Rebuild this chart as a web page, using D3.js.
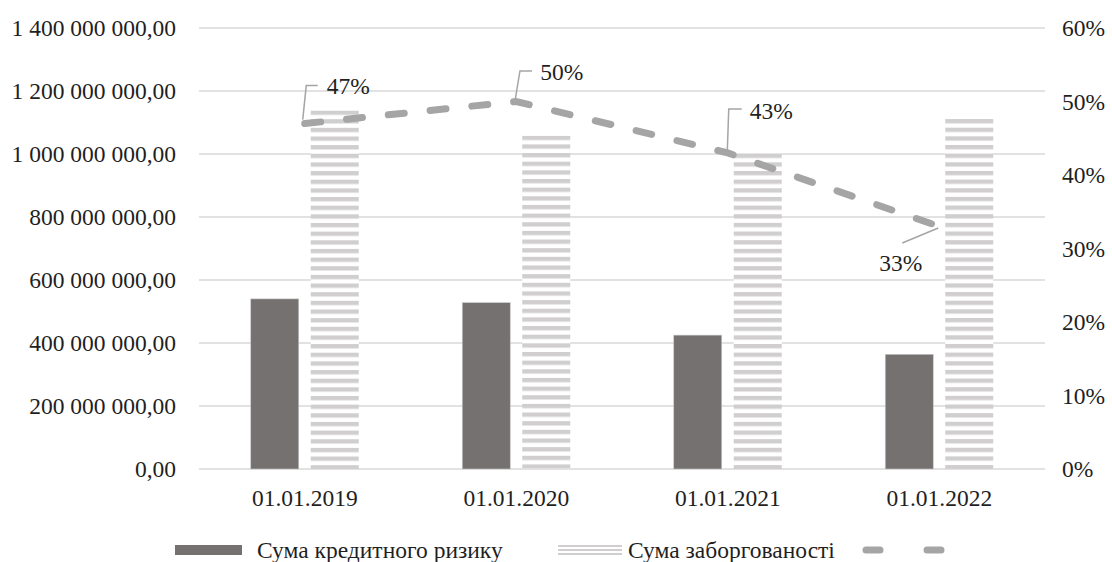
<!DOCTYPE html>
<html>
<head>
<meta charset="utf-8">
<script src="https://cdn.jsdelivr.net/npm/d3@7"></script>
<style>
  html, body { margin: 0; padding: 0; background: #fff; }
  svg { display: block; }
  svg text { font-family: "Liberation Serif", "Times New Roman", "DejaVu Serif", serif; }
</style>
</head>
<body>
<svg id="chart" width="1112" height="562"></svg>
<script>
// Report dates
const categories = ["01.01.2019", "01.01.2020", "01.01.2021", "01.01.2022"];
// Credit risk amount, UAH
const creditRisk = [540000000, 528000000, 425000000, 364000000];
// Outstanding debt amount, UAH
const debtTotal = [1138000000, 1058000000, 1001000000, 1111000000];
// Share of credit risk in debt
const riskShare = [0.47, 0.50, 0.43, 0.33];
const shareLabels = ["47%", "50%", "43%", "33%"];
// Axis ticks
const leftTicks = [0, 200000000, 400000000, 600000000, 800000000, 1000000000, 1200000000, 1400000000];
const rightTicks = [0, 0.1, 0.2, 0.3, 0.4, 0.5, 0.6];
const seriesNames = ["Сума кредитного ризику", "Сума заборгованості"];

const svg = d3.select("#chart");
const plot = { left: 199, right: 1045, top: 28, bottom: 469 };

const serif = "'Liberation Serif', 'Times New Roman', 'DejaVu Serif', serif";
const colDark = "#767171";
const colStripe = "#d0cece";
const colLine = "#a5a5a5";
const colGrid = "#d9d9d9";
const colText = "#1f1f1f";
const fontSize = 23.5;

const x = d3.scaleBand().domain(categories).range([plot.left, plot.right]);
const sub = d3.scaleBand().domain([0, 1]).range([0, 108]).paddingInner(0.2);
const yL = d3.scaleLinear().domain([0, 1400000000]).range([plot.bottom, plot.top]);
const yR = d3.scaleLinear().domain([0, 0.6]).range([plot.bottom, plot.top]);

function label(sel) {
  return sel.attr("font-family", serif).attr("font-size", fontSize).attr("fill", colText);
}

// Horizontal stripe fill for the debt bars, one pattern per bar so the
// stripes start at each bar's top edge
const defs = svg.append("defs");
const period = 8.65;
debtTotal.forEach((v, i) => {
  const pat = defs.append("pattern")
    .attr("id", "stripes" + i)
    .attr("patternUnits", "userSpaceOnUse")
    .attr("width", 20).attr("height", period)
    .attr("y", yL(v));
  pat.append("rect").attr("width", 20).attr("height", period).attr("fill", "#fff");
  pat.append("rect").attr("width", 20).attr("height", 4.3).attr("fill", colStripe);
});

// Gridlines
svg.append("g")
  .selectAll("line").data(leftTicks).join("line")
  .attr("x1", plot.left).attr("x2", plot.right)
  .attr("y1", d => yL(d)).attr("y2", d => yL(d))
  .attr("stroke", colGrid).attr("stroke-width", 1.5);

// Left axis labels
const fmtLeft = d => d3.format(",.2f")(d).replace(/,/g, " ").replace(".", ",");
svg.append("g")
  .selectAll("text").data(leftTicks).join("text")
  .attr("x", 176).attr("y", d => yL(d))
  .attr("dy", "0.35em")
  .attr("text-anchor", "end")
  .call(label)
  .text(fmtLeft);

// Right axis labels
svg.append("g")
  .selectAll("text").data(rightTicks).join("text")
  .attr("x", 1062).attr("y", d => yR(d))
  .attr("dy", "0.35em")
  .call(label)
  .text(d => d3.format(".0%")(d));

// Category labels
svg.append("g")
  .selectAll("text").data(categories).join("text")
  .attr("x", d => x(d) + x.bandwidth() / 2).attr("y", 498)
  .attr("dy", "0.35em")
  .attr("text-anchor", "middle")
  .call(label)
  .text(d => d);

// Bars
const groupOffset = (x.bandwidth() - 108) / 2;
svg.append("g")
  .selectAll("rect").data(categories).join("rect")
  .attr("x", d => x(d) + groupOffset + sub(0))
  .attr("width", sub.bandwidth())
  .attr("y", (d, i) => yL(creditRisk[i]))
  .attr("height", (d, i) => yL(0) - yL(creditRisk[i]))
  .attr("fill", colDark)
  .attr("stroke", "#c9c9c9").attr("stroke-width", 0.6);

svg.append("g")
  .selectAll("rect").data(categories).join("rect")
  .attr("x", d => x(d) + groupOffset + sub(1))
  .attr("width", sub.bandwidth())
  .attr("y", (d, i) => yL(debtTotal[i]))
  .attr("height", (d, i) => yL(0) - yL(debtTotal[i]))
  .attr("fill", (d, i) => "url(#stripes" + i + ")");

// Share line
const pts = categories.map((c, i) => [x(c) + x.bandwidth() / 2, yR(riskShare[i])]);
svg.append("path")
  .attr("d", d3.line()(pts))
  .attr("fill", "none")
  .attr("stroke", colLine)
  .attr("stroke-width", 7)
  .attr("stroke-linecap", "round")
  .attr("stroke-dasharray", "16,26");

// Data labels with leader lines (offsets from each point)
const labelLayout = [
  { path: [[-2, -4], [1.5, -38], [13, -38]], tx: 22, ty: -38, anchor: "start" },
  { path: [[-1, -2], [3.7, -30.5], [15.7, -30.5]], tx: 24, ty: -29.5, anchor: "start" },
  { path: [[-0.5, -0.5], [1, -44], [14, -44]], tx: 22, ty: -42, anchor: "start" },
  { path: [[-1, 1.5], [-37, 16.5]], tx: -17, ty: 36.5, anchor: "end" }
];
const labels = svg.append("g");
pts.forEach((p, i) => {
  const L = labelLayout[i];
  labels.append("path")
    .attr("d", d3.line()(L.path.map(o => [p[0] + o[0], p[1] + o[1]])))
    .attr("fill", "none").attr("stroke", colLine).attr("stroke-width", 1.5);
  labels.append("text")
    .attr("x", p[0] + L.tx).attr("y", p[1] + L.ty)
    .attr("dy", "0.35em")
    .attr("text-anchor", L.anchor)
    .call(label)
    .text(shareLabels[i]);
});

// Legend
const lg = svg.append("g");
const ly = 550;
lg.append("rect").attr("x", 175).attr("y", ly - 5).attr("width", 67).attr("height", 10)
  .attr("fill", colDark);
lg.append("text").attr("x", 257).attr("y", ly).attr("dy", "0.35em")
  .call(label).text(seriesNames[0]);
[-4, 0, 4].forEach(o => {
  lg.append("line").attr("x1", 558).attr("x2", 622)
    .attr("y1", ly + o).attr("y2", ly + o)
    .attr("stroke", colStripe).attr("stroke-width", 2);
});
lg.append("text").attr("x", 628).attr("y", ly).attr("dy", "0.35em")
  .call(label).text(seriesNames[1]);
lg.append("line").attr("x1", 866).attr("x2", 941)
  .attr("y1", ly).attr("y2", ly)
  .attr("stroke", colLine).attr("stroke-width", 7)
  .attr("stroke-linecap", "round")
  .attr("stroke-dasharray", "14,47");
</script>
</body>
</html>
